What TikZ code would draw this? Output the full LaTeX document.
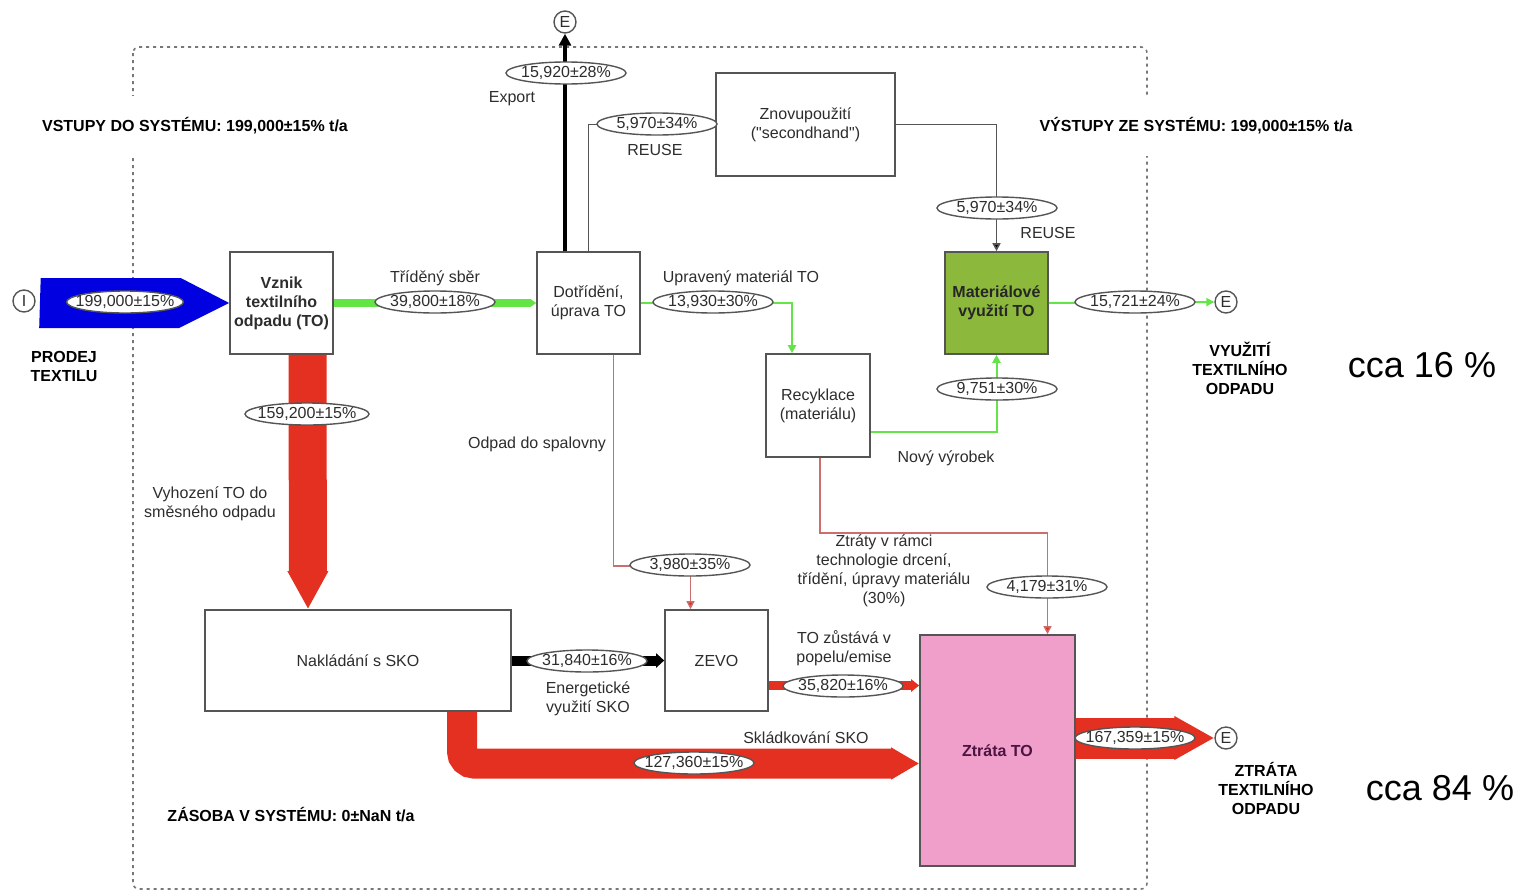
\documentclass[tikz,border=0pt]{standalone}
\usepackage{fontspec}
\setmainfont{Liberation Sans}
\usetikzlibrary{shapes.geometric,arrows.meta}
\definecolor{boxline}{RGB}{85,85,85}
\definecolor{txt}{RGB}{45,45,45}
\definecolor{inblue}{RGB}{0,0,225}
\definecolor{flowgreen}{RGB}{100,228,70}
\definecolor{matgreen}{RGB}{140,185,60}
\definecolor{losspink}{RGB}{240,158,202}
\definecolor{wastered}{RGB}{228,48,32}
\definecolor{lossline}{RGB}{205,110,110}
\begin{document}
\begin{tikzpicture}[x=0.5pt,y=-0.5pt,
  procbox/.style={draw=boxline, line width=0.8pt, fill=white, text=txt, align=center, inner sep=1pt, minimum width=51.5pt, minimum height=51pt, font=\fontsize{8}{9.5}\selectfont},
  valbox/.style={draw=boxline, line width=0.7pt, fill=white, ellipse, inner xsep=-4pt, inner ysep=0pt, minimum width=60pt, minimum height=11pt, text=txt, font=\fontsize{8}{9.5}\selectfont},
  notetxt/.style={text=txt, align=center, inner sep=0pt, font=\fontsize{8}{9.5}\selectfont},
  headtxt/.style={text=black, align=center, inner sep=0pt, font=\fontsize{8}{9.5}\selectfont\bfseries},
  bigtxt/.style={text=black, inner sep=0pt, font=\fontsize{18}{20}\selectfont},
  termcirc/.style={draw=boxline, line width=0.7pt, circle, fill=white, minimum size=11pt, inner sep=0pt, text=txt, font=\fontsize{8}{9.5}\selectfont},
  thinred/.style={draw=lossline, line width=0.7pt, -{Triangle[length=4pt,width=4pt,fill=wastered]}},
  thingreen/.style={draw=flowgreen, line width=1pt, -{Triangle[length=4pt,width=4pt]}},
  thingray/.style={draw=boxline, line width=0.8pt, -{Triangle[length=4pt,width=4pt,fill=black]}}]
\useasboundingbox (0,0) rectangle (1520,894);
\draw[boxline!80, line width=0.8pt, dash pattern=on 1.5pt off 2pt, rounded corners=3pt] (133,47) rectangle (1147,889);

\node[headtxt, fill=white, inner ysep=11pt] (vstupy) at (195,126) {VSTUPY DO SYSTÉMU: 199,000±15\% t/a};
\node[headtxt, fill=white, inner ysep=11pt] (vystupy) at (1196,126) {VÝSTUPY ZE SYSTÉMU: 199,000±15\% t/a};
\node[headtxt] (zasoba) at (291,815) {ZÁSOBA V SYSTÉMU: 0±NaN t/a};

\node[procbox, font=\fontsize{8}{9.5}\selectfont\bfseries] (vznik) at (281.5,303) {Vznik\\textilního\\odpadu (TO)};
\node[procbox] (dotrid) at (588.5,303) {Dotřídění,\\úprava TO};
\node[procbox, minimum width=89.5pt, minimum height=51.5pt] (znovu) at (805.5,124.5) {Znovupoužití\\(\textquotedbl secondhand\textquotedbl)};
\node[procbox, fill=matgreen, text=black!85, font=\fontsize{8}{9.5}\selectfont\bfseries] (matvyu) at (996.5,303) {Materiálové\\využití TO};
\node[procbox, minimum width=52pt, minimum height=51.5pt] (recyk) at (818,405.5) {Recyklace\\(materiálu)};
\node[procbox, minimum width=153pt, minimum height=50.5pt] (sko) at (358,660.5) {Nakládání s SKO};
\node[procbox, minimum height=50.5pt] (zevo) at (716.5,660.5) {ZEVO};
\node[procbox, fill=losspink, text={rgb,255:red,75;green,20;blue,65}, minimum width=77.5pt, minimum height=115.5pt, font=\fontsize{8}{9.5}\selectfont\bfseries] (ztrata) at (997.5,750.5) {Ztráta TO};

\node[termcirc] (vstup) at (24,301) {I};
\node[termcirc] (exp) at (565,22) {E};
\node[termcirc] (vyuz) at (1226,302) {E};
\node[termcirc] (ztr) at (1226,738) {E};

\fill[inblue] (vstup.east) ++(5,-23) -- ++(140,0) -- (vznik.west) -- ++(-50,25) -- ++(-140,0) -- cycle;
\draw[flowgreen, line width=4pt, -{Triangle[length=3pt,width=4pt]}] (vznik.east) -- (dotrid.west);
\draw[black, line width=2pt, -{Triangle[length=6pt,width=6pt]}] (exp |- dotrid.north) -- (exp.south);
\draw[thingray] (dotrid.north) |- (znovu.west);
\draw[thingray] (znovu.east) -| (matvyu.north);
\draw[thingreen] (dotrid.east) -| ([xshift=-13pt]recyk.north);
\draw[thingreen] ([yshift=-13pt]recyk.east) -| (matvyu.south);
\draw[thingreen] (matvyu.east) -- (vyuz.west);
\draw[wastered, line width=19pt, -{Triangle[length=19pt,width=19pt]}] ([xshift=13pt]vznik.south) -- ([xshift=-25pt]sko.north);
\draw[wastered, line width=15pt, rounded corners=6pt, -{Triangle[length=14pt,width=15pt]}] ([xshift=52pt]sko.south) |- ([yshift=-6.5pt]ztrata.west);
\coordinate (zevoout) at ([yshift=-12.5pt]zevo.east);
\draw[wastered, line width=4.5pt, -{Triangle[length=4pt,width=6pt]}] (zevoout) -- (zevoout -| ztrata.west);
\draw[black, line width=5pt, -{Triangle[length=4pt,width=7pt]}] (sko.east) -- (zevo.west);
\draw[wastered, line width=20.5pt, -{Triangle[length=20pt,width=20.5pt]}] ([yshift=6.25pt]ztrata.east) -- (ztr.west);
\draw[thinred] ([xshift=12.5pt]dotrid.south) -- ++(0,211) -| ([xshift=-13pt]zevo.north);
\draw[thinred] ([xshift=1pt]recyk.south) -- ++(0,75) -| ([xshift=25pt]ztrata.north);

\node[valbox, minimum width=58pt] (v1) at (125,302) {199,000±15\%};
\node[valbox] (v2) at (435,302) {39,800±18\%};
\node[valbox] (v3) at (566,73) {15,920±28\%};
\node[valbox] (v4) at (657,124) {5,970±34\%};
\node[valbox] (v5) at (997,208) {5,970±34\%};
\node[valbox] (v6) at (713,302) {13,930±30\%};
\node[valbox] (v7) at (1135,302) {15,721±24\%};
\node[valbox] (v8) at (997,389) {9,751±30\%};
\node[valbox, minimum width=62pt] (v9) at (307,414) {159,200±15\%};
\node[valbox] (v10) at (690,565) {3,980±35\%};
\node[valbox] (v11) at (1047,587) {4,179±31\%};
\node[valbox] (v12) at (587,661) {31,840±16\%};
\node[valbox] (v13) at (843,686) {35,820±16\%};
\node[valbox] (v14) at (694,763) {127,360±15\%};
\node[valbox] (v15) at (1135,738) {167,359±15\%};

\node[notetxt] (n1) at (435,278) {Tříděný sběr};
\node[notetxt] (n2) at (512,99) {Export};
\node[notetxt] (n3) at (655,150) {REUSE};
\node[notetxt] (n4) at (1048,233) {REUSE};
\node[notetxt] (n5) at (741,278) {Upravený materiál TO};
\node[notetxt] (n6) at (537,444) {Odpad do spalovny};
\node[notetxt] (n7) at (946,458) {Nový výrobek};
\node[notetxt] (n8) at (210,504) {Vyhození TO do\\směsného odpadu};
\node[notetxt] (n9) at (884,571) {Ztráty v rámci\\technologie drcení,\\třídění, úpravy materiálu\\(30\%)};
\node[notetxt] (n10) at (844,648) {TO zůstává v\\popelu/emise};
\node[notetxt] (n11) at (588,699) {Energetické\\využití SKO};
\node[notetxt] (n12) at (806,738) {Skládkování SKO};

\node[headtxt] (prodej) at (64,366) {PRODEJ\\TEXTILU};
\node[headtxt] (vyuzti) at (1240,368) {VYUŽITÍ\\TEXTILNÍHO\\ODPADU};
\node[headtxt] (ztrati) at (1266,788) {ZTRÁTA\\TEXTILNÍHO\\ODPADU};
\node[bigtxt] (cca16) at (1422,365) {cca 16 \%};
\node[bigtxt] (cca84) at (1440,788) {cca 84 \%};
\end{tikzpicture}
\end{document}
